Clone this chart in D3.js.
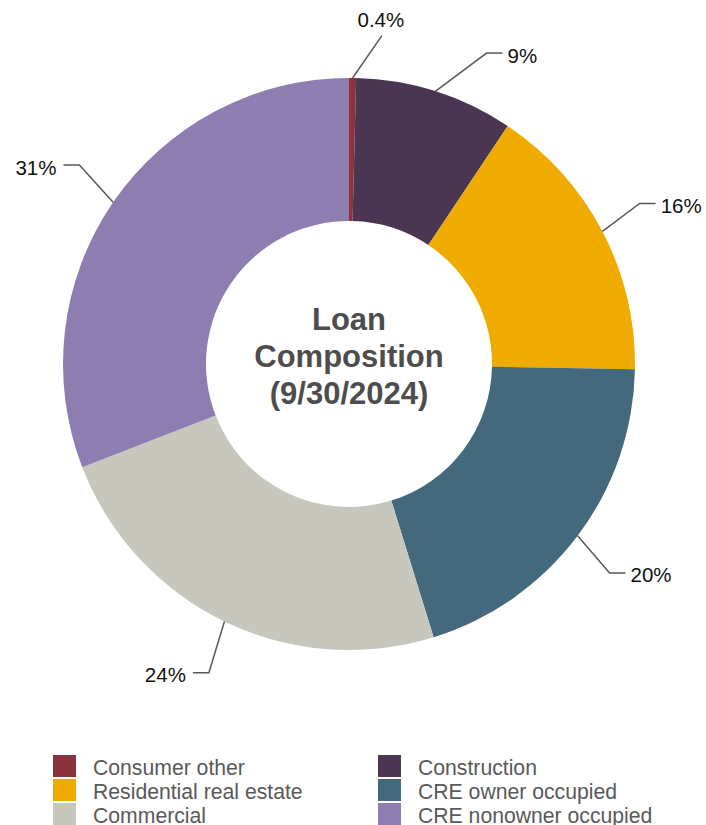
<!DOCTYPE html>
<html>
<head>
<meta charset="utf-8">
<script src="https://cdn.jsdelivr.net/npm/d3@7"></script>
<style>
  html, body { margin: 0; padding: 0; background: #fff; }
  svg { display: block; font-family: "Liberation Sans", Arial, sans-serif; }
</style>
</head>
<body>
<svg id="chart" width="706" height="825"></svg>
<script>
// Loan mix by category, percent of total
const categories = [
  "Consumer other",
  "Construction",
  "Residential real estate",
  "CRE owner occupied",
  "Commercial",
  "CRE nonowner occupied"
];
const shares = [0.4, 9, 16, 20, 24, 31];
const valueLabels = ["0.4%", "9%", "16%", "20%", "24%", "31%"];
const titleLines = ["Loan", "Composition", "(9/30/2024)"];

const colors = ["#8B333D", "#4A3652", "#F0AB00", "#44697D", "#C7C7BD", "#8E7DB0"];

// Leader-line layout: angular nudge (degrees) and radius of each label's elbow
const labelNudge = [5, 6.3, -1.3, 1.8, -1.4, 2];
const labelRadius = [330, 340, 332, 334, 339, 335];

const svg = d3.select("#chart");
const cx = 349, cy = 364;
const outerR = 286, innerR = 143;
const tailLen = 16;

const pie = d3.pie().sort(null).value(d => d);
const arcs = pie(shares);
const arc = d3.arc().innerRadius(innerR).outerRadius(outerR);

const g = svg.append("g").attr("transform", `translate(${cx},${cy})`);

g.selectAll("path.slice")
  .data(arcs)
  .join("path")
  .attr("class", "slice")
  .attr("d", arc)
  .attr("fill", (d, i) => colors[i]);

// polar helper: angle measured clockwise from 12 o'clock
const polar = (a, r) => [r * Math.sin(a), -r * Math.cos(a)];

const labels = g.append("g");
arcs.forEach((d, i) => {
  const mid = (d.startAngle + d.endAngle) / 2;
  const p0 = polar(mid, outerR);
  const ea = mid + labelNudge[i] * Math.PI / 180;
  const p1 = polar(ea, labelRadius[i]);
  const isTop = i === 0;
  const right = Math.sin(ea) >= 0;
  const pts = [p0, p1];
  if (!isTop) pts.push([p1[0] + (right ? tailLen : -tailLen), p1[1]]);

  labels.append("path")
    .attr("d", d3.line()(pts))
    .attr("fill", "none")
    .attr("stroke", "#595959")
    .attr("stroke-width", 1.5);

  const t = labels.append("text")
    .attr("font-size", 20.5)
    .attr("fill", "#111")
    .text(valueLabels[i]);
  if (isTop) {
    t.attr("x", p1[0] - 1).attr("y", p1[1] - 9).attr("text-anchor", "middle");
  } else {
    const end = pts[2];
    t.attr("x", end[0] + (right ? 5 : -7))
     .attr("y", end[1] + 9.5)
     .attr("text-anchor", right ? "start" : "end");
  }
});

// centre title
const title = g.append("text")
  .attr("text-anchor", "middle")
  .attr("font-size", 31)
  .attr("font-weight", "bold")
  .attr("fill", "#4D4D4D");
titleLines.forEach((s, i) => {
  title.append("tspan")
    .attr("x", 0)
    .attr("y", -34 + i * 37)
    .text(s);
});

// legend: two columns, filled row by row
const legend = svg.append("g");
const colX = [53, 378], rowY0 = 755, rowStep = 24;
categories.forEach((name, i) => {
  const x = colX[i % 2];
  const y = rowY0 + Math.floor(i / 2) * rowStep;
  legend.append("rect")
    .attr("x", x).attr("y", y)
    .attr("width", 23).attr("height", 22)
    .attr("fill", colors[i]);
  legend.append("text")
    .attr("x", x + 40).attr("y", y + 19.5)
    .attr("font-size", 21.2)
    .attr("fill", "#595959")
    .text(name);
});
</script>
</body>
</html>
